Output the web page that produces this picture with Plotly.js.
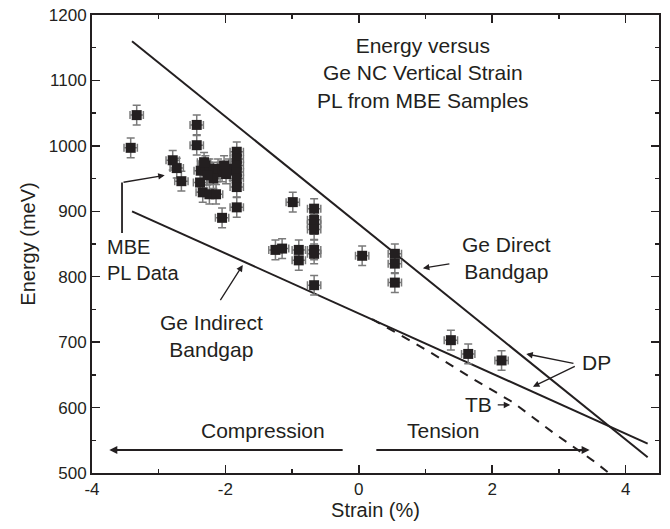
<!DOCTYPE html>
<html>
<head>
<meta charset="utf-8">
<script src="https://cdn.plot.ly/plotly-3.0.1.min.js"></script>
<style>html,body{margin:0;padding:0;background:#fff;}#chart{width:670px;height:529px;}</style>
</head>
<body>
<div id="chart"></div>
<script>
// Measured PL data (strain %, energy meV)
var strain = [-3.33, -3.42, -2.43, -2.43, -2.79, -2.73, -2.66, -2.38, -2.34, -2.24, -2.14,
  -2.37, -2.30, -2.24, -2.18, -2.11, -2.05, -1.95, -1.89, -2.18, -2.05, -2.32, -2.02, -2.27, -1.99,
  -1.83, -1.83, -1.83, -1.83, -1.83, -1.83, -1.83,
  -0.99, -0.67, -0.67, -0.67, -0.67, -0.67, -0.67, -0.67,
  -1.25, -1.15, -0.90, -0.90, 0.05, 0.54, 0.54, 0.54, 1.38, 1.64, 2.14];
var energy = [1047, 997, 1032, 1001, 978, 966, 946, 944, 929, 926, 926,
  962, 970, 965, 960, 965, 960, 965, 962, 950, 890, 975, 970, 955, 957,
  991, 980, 970, 960, 950, 937, 906,
  914, 904, 887, 880, 872, 841, 835, 787,
  841, 843, 841, 825, 832, 835, 820, 791, 703, 682, 672];
var strainErr = 0.1;
var energyErr = 15;

// Deformation-potential (DP) bandgaps
var directX = [-3.4, 4.33];
var directY = [1160, 524];
var indirectX = [-3.4, 4.33];
var indirectY = [900, 545];
// Tight-binding (TB) indirect gap
var tbX = [0.2, 0.47, 0.81, 1.11, 1.71, 2.31, 2.91, 3.51, 3.75];
var tbY = [735, 720, 700, 682, 644, 608, 562, 519, 500];

// Tick labels
var xTickVals = [-4, -2, 0, 2, 4];
var xTickText = ['-4', '-2', '0', '2', '4'];
var yTickVals = [500, 600, 700, 800, 900, 1000, 1100, 1200];
var yTickText = ['500', '600', '700', '800', '900', '1000', '1100', '1200'];

var ink = '#231f20';
var FONT = 'Liberation Sans, Arial, sans-serif';

var traces = [
  {x: directX, y: directY, mode: 'lines', line: {color: ink, width: 2}, hoverinfo: 'skip'},
  {x: indirectX, y: indirectY, mode: 'lines', line: {color: ink, width: 2}, hoverinfo: 'skip'},
  {x: tbX, y: tbY, mode: 'lines', line: {color: ink, width: 2, dash: '9px,8px'}, hoverinfo: 'skip'},
  {x: strain, y: energy, mode: 'markers',
   marker: {symbol: 'square', size: 10, color: ink},
   error_x: {type: 'constant', value: strainErr, color: '#7a7a7a', thickness: 1.5, width: 4},
   error_y: {type: 'constant', value: energyErr, color: '#7a7a7a', thickness: 1.5, width: 4}}
];

function txt(x, y, t, size, extra) {
  var a = {x: x, y: y, xref: 'x', yref: 'y', text: t, showarrow: false,
    font: {family: FONT, size: size, color: ink}};
  for (var k in extra) a[k] = extra[k];
  return a;
}
function arr(x, y, ax, ay, w, s) {
  return {x: x, y: y, ax: ax, ay: ay, xref: 'x', yref: 'y', axref: 'x', ayref: 'y',
    text: '', showarrow: true, arrowhead: 2, arrowsize: s || 1, arrowwidth: w || 1.3, arrowcolor: ink};
}

var annotations = [
  txt(0.96, 1112, 'Energy versus<br>Ge NC Vertical Strain<br>PL from MBE Samples', 21),
  txt(-3.81, 825, 'MBE<br>PL Data', 20, {xanchor: 'left', align: 'left'}),
  txt(-2.21, 709, 'Ge Indirect<br>Bandgap', 21),
  txt(2.22, 828, 'Ge Direct<br>Bandgap', 21),
  txt(3.57, 669, 'DP', 21),
  txt(1.79, 604, 'TB', 21),
  txt(-1.44, 565, 'Compression', 21),
  txt(1.26, 565, 'Tension', 21),
  arr(-2.91, 955, -3.55, 944),
  arr(-1.74, 818, -2.09, 762),
  arr(0.96, 813, 1.38, 820),
  arr(2.51, 682, 3.24, 667),
  arr(2.61, 632, 3.26, 664),
  arr(2.27, 604, 2.06, 604),
  arr(-3.74, 535, -0.22, 535, 2, 0.8),
  arr(3.46, 535, 0.24, 535, 2, 0.8)
];

var shapes = [
  {type: 'line', xref: 'x', yref: 'y', x0: -3.55, x1: -3.55, y0: 867, y1: 944, line: {color: ink, width: 1.8}}
];

var axisCommon = {
  showline: true, linewidth: 2, linecolor: ink, mirror: 'ticks',
  ticks: 'inside', ticklen: 8, tickwidth: 1.5, tickcolor: ink,
  showgrid: false, zeroline: false,
  tickfont: {family: FONT, size: 17, color: ink}
};

var layout = {
  width: 670, height: 529,
  margin: {l: 92, r: 11, t: 15, b: 56},
  paper_bgcolor: '#fff', plot_bgcolor: '#fff',
  showlegend: false,
  font: {family: FONT, color: ink},
  xaxis: Object.assign({}, axisCommon, {
    range: [-4, 4.5], tickmode: 'array', tickvals: xTickVals, ticktext: xTickText,
    minor: {dtick: 1, tick0: 0, ticks: 'inside', ticklen: 4, tickwidth: 1.5, tickcolor: ink},
    title: {text: 'Strain (%)', font: {family: FONT, size: 20, color: ink}, standoff: 4}
  }),
  yaxis: Object.assign({}, axisCommon, {
    range: [500, 1200], tickmode: 'array', tickvals: yTickVals, ticktext: yTickText,
    minor: {dtick: 50, tick0: 0, ticks: 'inside', ticklen: 4, tickwidth: 1.5, tickcolor: ink},
    title: {text: 'Energy (meV)', font: {family: FONT, size: 20, color: ink}, standoff: 8}
  }),
  annotations: annotations,
  shapes: shapes
};

Plotly.newPlot('chart', traces, layout, {staticPlot: true, displayModeBar: false});
</script>
</body>
</html>
